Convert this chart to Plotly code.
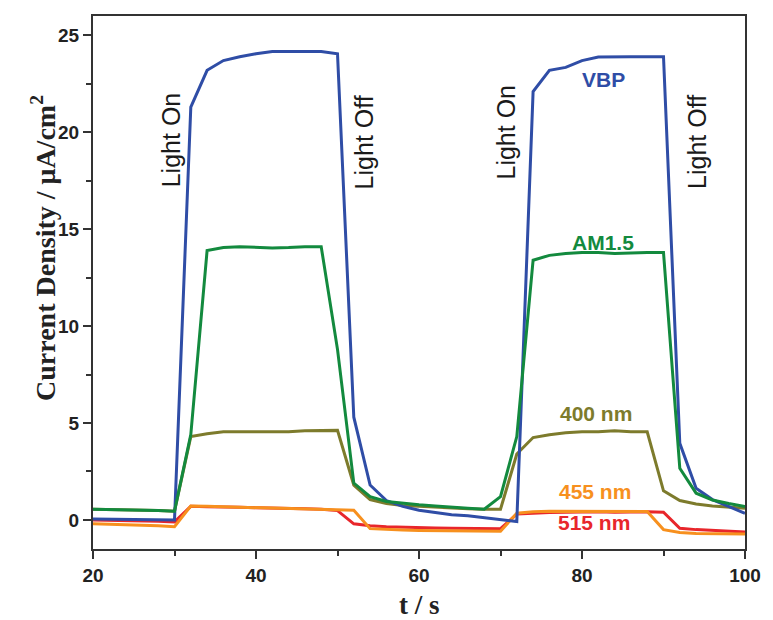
import plotly.graph_objects as go

# time axis (s)
t = list(range(20, 101, 2))

vbp = [0.05, 0.04, 0.03, 0.02, 0.0, 0.0,
       21.3, 23.2, 23.7, 23.9, 24.05, 24.17, 24.17, 24.17, 24.17, 24.05,
       5.3, 1.8, 1.0, 0.7, 0.5, 0.38, 0.27, 0.22, 0.12, 0.02, -0.08,
       22.1, 23.2, 23.35, 23.7, 23.88, 23.9, 23.9, 23.9, 23.9,
       3.95, 1.63, 1.05, 0.7, 0.34]

am15 = [0.55, 0.54, 0.52, 0.5, 0.48, 0.45,
        4.4, 13.9, 14.05, 14.1, 14.05, 14.03, 14.05, 14.1, 14.1, 8.8,
        1.9, 1.2, 0.95, 0.85, 0.78, 0.72, 0.65, 0.6, 0.55, 1.2, 4.3,
        13.4, 13.65, 13.75, 13.8, 13.8, 13.75, 13.78, 13.8, 13.8,
        2.66, 1.38, 1.03, 0.85, 0.69]

nm400 = [0.55, 0.54, 0.52, 0.5, 0.48, 0.45,
         4.3, 4.45, 4.55, 4.55, 4.55, 4.55, 4.55, 4.6, 4.62, 4.62,
         1.8, 1.05, 0.85, 0.75, 0.7, 0.65, 0.6, 0.58, 0.55, 0.55, 3.4,
         4.25, 4.4, 4.5, 4.55, 4.55, 4.6, 4.55, 4.55,
         1.5, 1.0, 0.82, 0.72, 0.65, 0.6]

nm455 = [-0.2, -0.22, -0.25, -0.28, -0.3, -0.35,
         0.72, 0.7, 0.68, 0.66, 0.65, 0.63, 0.6, 0.58, 0.55, 0.52, 0.5,
         -0.45, -0.5, -0.52, -0.54, -0.55, -0.56, -0.57, -0.58, -0.58,
         0.35, 0.42, 0.45, 0.45, 0.46, 0.45, 0.45, 0.45, 0.43,
         -0.5, -0.65, -0.7, -0.7, -0.72, -0.72]

nm515 = [0.0, -0.01, -0.03, -0.05, -0.07, -0.1,
         0.7, 0.68, 0.65, 0.65, 0.63, 0.62, 0.6, 0.58, 0.55, 0.48,
         -0.2, -0.3, -0.35, -0.38, -0.4, -0.42, -0.43, -0.44, -0.45, -0.45,
         0.3, 0.35, 0.38, 0.4, 0.42, 0.42, 0.4, 0.42, 0.42, 0.4,
         -0.43, -0.5, -0.55, -0.6, -0.62]

series = [
    ("515 nm", nm515, "#E8262B"),
    ("455 nm", nm455, "#F7901E"),
    ("400 nm", nm400, "#7D7B2C"),
    ("VBP", vbp, "#2F4DA6"),
    ("AM1.5", am15, "#138A3E"),
]

# label positions (data coords)
label_pos = {
    "VBP": (82.6, 22.7),
    "AM1.5": (82.6, 14.3),
    "400 nm": (81.7, 5.5),
    "455 nm": (81.6, 1.45),
    "515 nm": (81.5, -0.15),
}

light_text = ["Light On", "Light Off", "Light On", "Light Off"]
light_x = [29.6, 53.3, 70.7, 94.1]
light_y = [19.6, 19.5, 20.0, 19.5]

fig = go.Figure()
for name, vals, col in series:
    fig.add_trace(go.Scatter(x=t, y=vals, mode="lines", name=name,
                             line=dict(color=col, width=3), showlegend=False))

for name, vals, col in series:
    lx, ly = label_pos[name]
    fig.add_annotation(x=lx, y=ly, xref="x", yref="y", text=name, showarrow=False,
                       font=dict(family="Liberation Sans", size=21, color=col, weight="bold"))

for txt, lx, ly in zip(light_text, light_x, light_y):
    fig.add_annotation(x=lx, y=ly, xref="x", yref="y", text=txt, showarrow=False,
                       textangle=-90,
                       font=dict(family="Liberation Sans", size=25, color="#1a1a1a"))

fig.add_annotation(x=-0.075, y=0.565, xref="paper", yref="paper",
                   text="Current Density / μA/cm<sup>2</sup>", showarrow=False,
                   textangle=-90, xanchor="center", yanchor="middle",
                   font=dict(family="Liberation Serif", size=28, color="#222", weight="bold"))
fig.add_annotation(x=0.5, y=-0.105, xref="paper", yref="paper",
                   text="t / s", showarrow=False, xanchor="center", yanchor="middle",
                   font=dict(family="Liberation Serif", size=27, color="#222", weight="bold"))

axis_common = dict(showgrid=False, zeroline=False, showline=True, linecolor="#333",
                   linewidth=2, mirror=True, ticks="outside", tickcolor="#333",
                   tickwidth=2, ticklen=8,
                   tickfont=dict(family="Liberation Sans", size=19, color="#222", weight="bold"))

fig.update_xaxes(range=[20, 100], tickvals=[20, 40, 60, 80, 100],
                 minor=dict(ticks="outside", tickvals=[30, 50, 70, 90], ticklen=5,
                            tickcolor="#333", tickwidth=2),
                 **axis_common)
fig.update_yaxes(range=[-1.5, 26], tickvals=[0, 5, 10, 15, 20, 25],
                 minor=dict(ticks="outside", tickvals=[2.5, 7.5, 12.5, 17.5, 22.5], ticklen=5,
                            tickcolor="#333", tickwidth=2),
                 **axis_common)

fig.update_layout(width=773, height=620, margin=dict(l=93, r=20, t=16, b=71),
                  plot_bgcolor="white", paper_bgcolor="white")

fig.write_html("out.html")
